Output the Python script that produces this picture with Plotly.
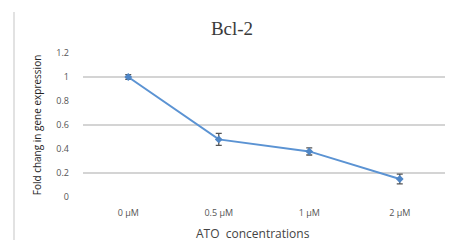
import plotly.graph_objects as go

categories = ["0 µM", "0.5 µM", "1 µM", "2 µM"]
fold_change = [1.0, 0.48, 0.38, 0.15]
error = [0.02, 0.05, 0.03, 0.04]
y_tick_vals = [0, 0.2, 0.4, 0.6, 0.8, 1.0, 1.2]
y_tick_text = ["0", "0.2", "0.4", "0.6", "0.8", "1", "1.2"]
grid_vals = [0.2, 0.6, 1.0]

OFF = 8  # page body margin
W, H = 468 - OFF, 244 - OFF
L, R, T, B = 83 - OFF, 23, 53 - OFF, 47

fig = go.Figure()
fig.add_trace(go.Scatter(
    x=categories, y=fold_change,
    mode="lines+markers",
    line=dict(color="#5b93d3", width=2),
    marker=dict(symbol="diamond", size=6, color="#4f86c6"),
    error_y=dict(type="data", array=error, visible=True, color="#555555", thickness=1.3, width=3),
    showlegend=False,
))
fig.add_trace(go.Scatter(x=categories, y=fold_change, yaxis="y2", mode="none",
                         showlegend=False, hoverinfo="skip"))

fig.update_layout(
    width=W, height=H,
    margin=dict(l=L, r=R, t=T, b=B),
    paper_bgcolor="white", plot_bgcolor="white",
    title=dict(text="Bcl-2", x=(232 - OFF) / W, xref="container", xanchor="center",
               y=1 - (28 - OFF) / H, yanchor="middle",
               font=dict(family="Liberation Serif", size=19, color="#3a3a3a")),
    xaxis=dict(
        type="category", range=[-0.5, 3.5], showgrid=False, showline=False, ticks="",
        tickfont=dict(family="Open Sans", size=9, color="#555555"),
        ticklabelstandoff=9,
    ),
    yaxis=dict(
        range=[0, 1.2], tickvals=y_tick_vals, ticktext=y_tick_text,
        showgrid=False, zeroline=False, showline=False,
        tickfont=dict(family="Open Sans", size=9, color="#555555"),
        ticklabelstandoff=13,
        title=dict(text="Fold chang in gene expression", standoff=12,
                   font=dict(family="Open Sans", size=10, color="#222222")),
    ),
    yaxis2=dict(
        range=[0, 1.2], overlaying="y", tickvals=grid_vals, showticklabels=False,
        showgrid=True, gridcolor="#d4d4d4", gridwidth=2, zeroline=False, side="left",
    ),
    annotations=[dict(text="ATO  concentrations", xref="paper", yref="paper",
                      x=(253 - OFF - L) / (W - L - R), y=-(233 - 197) / (H - T - B),
                      xanchor="center", yanchor="middle", showarrow=False,
                      font=dict(family="Open Sans", size=12, color="#444444"))],
    shapes=[dict(type="line", xref="paper", yref="paper",
                 x0=(14 - OFF - L) / (W - L - R), x1=(14 - OFF - L) / (W - L - R),
                 y0=(H - B - (240 - OFF)) / (H - T - B), y1=(H - B - (12 - OFF)) / (H - T - B),
                 line=dict(color="#e2e2e2", width=2))],
)

fig.write_html("out.html")
